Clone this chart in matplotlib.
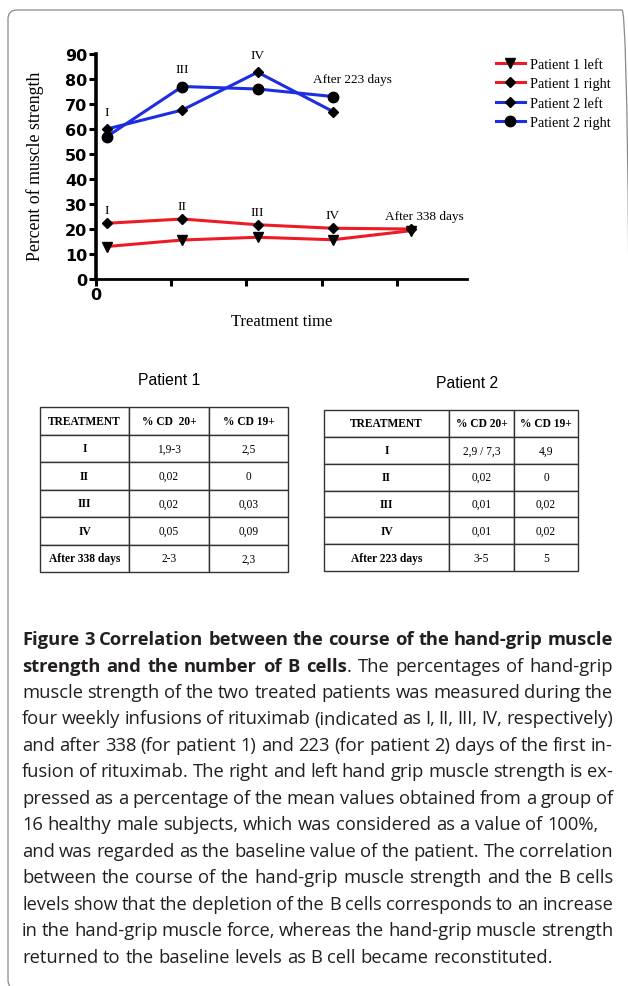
import matplotlib
matplotlib.use('Agg')
import matplotlib.pyplot as plt
from matplotlib.patches import FancyBboxPatch
from matplotlib.transforms import IdentityTransform

W, H = 628, 987

# muscle strength (% of healthy mean) at each treatment time
x_p1 = [0.15, 1.15, 2.15, 3.15, 4.18]
p1_left = [13, 15.6, 16.7, 15.7, 19.3]
p1_right = [22.3, 24, 21.7, 20.3, 20]
p1_marks = ['I', 'II', 'III', 'IV', 'After 338 days']

x_p2 = [0.15, 1.15, 2.15, 3.15]
p2_left = [60, 67.6, 82.7, 67]
p2_right = [57, 77, 76, 73]
p2_marks = ['I', 'III', 'IV', 'After 223 days']

# B cell tables
p1_header = ['TREATMENT', '% CD  20+', '% CD 19+']
p1_rows = ['I', 'II', 'III', 'IV', 'After 338 days']
p1_cd20 = ['1,9-3', '0,02', '0,02', '0,05', '2-3']
p1_cd19 = ['2,5', '0', '0,03', '0,09', '2,3']

p2_header = ['TREATMENT', '% CD 20+', '% CD 19+']
p2_rows = ['I', 'II', 'III', 'IV', 'After 223 days']
p2_cd20 = ['2,9 / 7,3', '0,02', '0,01', '0,01', '3-5']
p2_cd19 = ['4,9', '0', '0,02', '0,02', '5']

caption = [
    "**Figure 3 Correlation between the course of the hand-grip muscle**",
    "**strength and the number of B cells**. The percentages of hand-grip",
    "muscle strength of the two treated patients was measured during the",
    "four weekly infusions of rituximab (indicated as I, II, III, IV, respectively)",
    "and after 338 (for patient 1) and 223 (for patient 2) days of the first in-",
    "fusion of rituximab. The right and left hand grip muscle strength is ex-",
    "pressed as a percentage of the mean values obtained from a group of",
    "16 healthy male subjects, which was considered as a value of 100%,",
    "and was regarded as the baseline value of the patient. The correlation",
    "between the course of the hand-grip muscle strength and the B cells",
    "levels show that the depletion of the B cells corresponds to an increase",
    "in the hand-grip muscle force, whereas the hand-grip muscle strength",
    "returned to the baseline levels as B cell became reconstituted.",
]
not_justified = [7, 12]

red = '#ec1c24'
blue = '#1c2ee0'
serif = 'Liberation Serif'

fig = plt.figure(figsize=(W / 100, H / 100), dpi=100)
fig.patch.set_facecolor('white')

# rounded frame
frame = FancyBboxPatch((8, -3), 623, 979, boxstyle='round,pad=0,rounding_size=9',
                       transform=IdentityTransform(), fill=False, ec='#8a8a8a', lw=0.9)
fig.patches.append(frame)

# ---- chart ----
ax = fig.add_axes([95.7 / W, 1 - 280 / H, (467 - 95.7) / W, 225 / H])
ax.plot(x_p1, p1_left, color=red, lw=2.2, marker='v', ms=7.5, mfc='black', mec='black', label='Patient 1 left')
ax.plot(x_p1, p1_right, color=red, lw=2.2, marker='D', ms=5.5, mfc='black', mec='black', label='Patient 1 right')
ax.plot(x_p2, p2_left, color=blue, lw=2.2, marker='D', ms=5.5, mfc='black', mec='black', label='Patient 2 left')
ax.plot(x_p2, p2_right, color=blue, lw=2.2, marker='o', ms=7.5, mfc='black', mec='black', label='Patient 2 right')

ax.set_xlim(0, 4.93)
ax.set_ylim(0, 90)
ax.set_yticks(range(0, 91, 10))
ax.set_xticks([0, 1, 2, 3, 4])
ax.set_xticklabels(['0', '', '', '', ''])
for s in ['top', 'right']:
    ax.spines[s].set_visible(False)
ax.spines['left'].set_linewidth(2.6)
ax.spines['bottom'].set_linewidth(2.0)
ax.tick_params(axis='both', width=2.2, length=5, pad=1, labelsize=11.5)
for lab in ax.get_yticklabels() + ax.get_xticklabels():
    lab.set_fontweight('bold')
    lab.set_family('DejaVu Sans')

for i, m in enumerate(p1_marks):
    top = max(p1_left[i], p1_right[i])
    dx = 10 if i == len(p1_marks) - 1 else 0
    ax.annotate(m, (x_p1[i], top), xytext=(dx, 5), textcoords='offset points',
                ha='center', va='bottom', family=serif, fontsize=9.5)
for i, m in enumerate(p2_marks):
    top = max(p2_left[i], p2_right[i])
    dx = 14 if i == len(p2_marks) - 1 else 0
    ax.annotate(m, (x_p2[i], top), xytext=(dx, 8), textcoords='offset points',
                ha='center', va='bottom', family=serif, fontsize=9.5)

ax.set_xlabel('Treatment time', family=serif, fontsize=12, labelpad=8)
fig.text(35 / W, 1 - 166 / H, 'Percent of muscle strength', rotation=90,
         ha='center', va='center', family=serif, fontsize=12.8)

fig.legend(loc='upper left', bbox_to_anchor=(496 / W, 1 - 59 / H), frameon=False,
           prop={'family': serif, 'size': 10.3}, handlelength=2.0, handletextpad=0.4,
           labelspacing=0.45, borderpad=0, borderaxespad=0)

# ---- tables ----
def draw_table(rect, header, rows, cd20, cd19, colw, size):
    tax = fig.add_axes(rect)
    tax.axis('off')
    cells = [[r, a, b] for r, a, b in zip(rows, cd20, cd19)]
    tb = tax.table(cellText=cells, colLabels=header, colWidths=colw,
                   bbox=[0, 0, 1, 1], cellLoc='center')
    tb.auto_set_font_size(False)
    for (r, c), cell in tb.get_celld().items():
        cell.set_edgecolor('#333333')
        cell.set_linewidth(1.0)
        t = cell.get_text()
        t.set_fontsize(size)
        t.set_family(serif)
        if r == 0 or c == 0:
            t.set_fontweight('bold')

draw_table([40 / W, 1 - 573 / H, 248 / W, 165 / H], p1_header, p1_rows, p1_cd20, p1_cd19,
           [89 / 248, 80 / 248, 79 / 248], 8.3)
draw_table([324 / W, 1 - 572 / H, 254 / W, 161 / H], p2_header, p2_rows, p2_cd20, p2_cd19,
           [125 / 254, 65 / 254, 64 / 254], 8.3)
fig.text(169 / W, 1 - 381 / H, 'Patient 1', ha='center', va='center', family='Liberation Sans', fontsize=11.3)
fig.text(467 / W, 1 - 384 / H, 'Patient 2', ha='center', va='center', family='Liberation Sans', fontsize=11.3)

# ---- caption, justified word by word ----
cap_font = 'Open Sans'
renderer = fig.canvas.get_renderer()


def text_w(s, size, weight):
    t = fig.text(0, 0, s, fontsize=size, fontweight=weight, family=cap_font)
    w = t.get_window_extent(renderer).width
    t.remove()
    return w


def parse(line):
    words = []
    for i, seg in enumerate(line.split('**')):
        wt = 'bold' if i % 2 else 'normal'
        for j, p in enumerate(seg.split(' ')):
            if p == '':
                continue
            if j == 0 and words:
                words[-1].append((p, wt))
            else:
                words.append([(p, wt)])
    return words


def natural(words, size):
    sp = text_w('a a', size, 'normal') - text_w('aa', size, 'normal')
    ww = sum(text_w(p, size, wt) for w in words for p, wt in w)
    return ww + sp * (len(words) - 1) * 0.8


x0, x1 = 22, 613
parsed = [parse(l) for l in caption]
base = 12
# size set by the plain lines; the bold lines shrink on their own if needed
nat = [natural(w, base) for k, w in enumerate(parsed) if k not in not_justified and k > 1]
cap_size = base * (x1 - x0) / max(nat)

y0, dy = 645, 26.5
for k, words in enumerate(parsed):
    y = y0 + k * dy
    size = cap_size
    n = natural(words, size)
    if n > x1 - x0:
        size = size * (x1 - x0) / n
    space = text_w('a a', size, 'normal') - text_w('aa', size, 'normal')
    widths = [[text_w(p, size, wt) for p, wt in w] for w in words]
    tot = sum(sum(w) for w in widths)
    gap = space if k in not_justified else (x1 - x0 - tot) / (len(words) - 1)
    x = x0
    for w, wl in zip(words, widths):
        xx = x
        for (p, wt), pw in zip(w, wl):
            fig.text(xx / W, 1 - y / H, p, fontsize=size, fontweight=wt,
                     family=cap_font, color='#231f20', va='baseline')
            xx += pw
        x += sum(wl) + gap

fig.savefig('out.png', dpi=100, facecolor='white')
